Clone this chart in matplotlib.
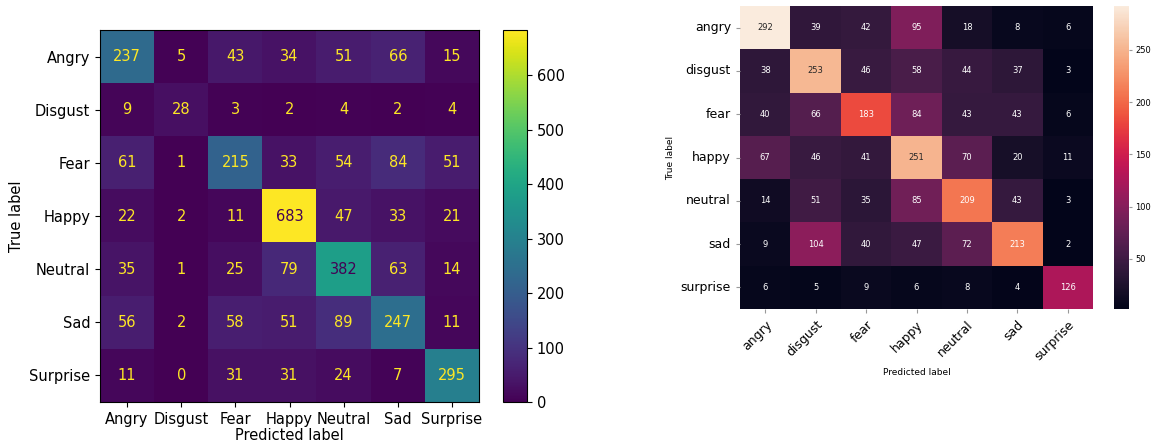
import matplotlib
matplotlib.use("Agg")
import matplotlib.pyplot as plt
import numpy as np
import seaborn as sns

# left matrix (sklearn ConfusionMatrixDisplay style)
left_labels = ["Angry", "Disgust", "Fear", "Happy", "Neutral", "Sad", "Surprise"]
left_cm = np.array([
    [237, 5, 43, 34, 51, 66, 15],
    [9, 28, 3, 2, 4, 2, 4],
    [61, 1, 215, 33, 54, 84, 51],
    [22, 2, 11, 683, 47, 33, 21],
    [35, 1, 25, 79, 382, 63, 14],
    [56, 2, 58, 51, 89, 247, 11],
    [11, 0, 31, 31, 24, 7, 295],
])

# right matrix (seaborn heatmap)
right_labels = ["angry", "disgust", "fear", "happy", "neutral", "sad", "surprise"]
right_cm = np.array([
    [292, 39, 42, 95, 18, 8, 6],
    [38, 253, 46, 58, 44, 37, 3],
    [40, 66, 183, 84, 43, 43, 6],
    [67, 46, 41, 251, 70, 20, 11],
    [14, 51, 35, 85, 209, 43, 3],
    [9, 104, 40, 47, 72, 213, 2],
    [6, 5, 9, 6, 8, 4, 126],
])

W, H = 1154, 448
fig = plt.figure(figsize=(W / 100, H / 100), dpi=100)


def box(x0, y0, x1, y1):
    return [x0 / W, 1 - y1 / H, (x1 - x0) / W, (y1 - y0) / H]


# --- left panel ---
ax1 = fig.add_axes(box(100, 30, 479, 402))
cax1 = fig.add_axes(box(503, 30, 527, 402))
cmap = plt.get_cmap("viridis")
im = ax1.imshow(left_cm, cmap=cmap, aspect="auto", vmin=left_cm.min(), vmax=left_cm.max())
thresh = (left_cm.max() + left_cm.min()) / 2.0
for i in range(left_cm.shape[0]):
    for j in range(left_cm.shape[1]):
        color = cmap(0.0) if left_cm[i, j] >= thresh else cmap(1.0)
        ax1.text(j, i, str(left_cm[i, j]), ha="center", va="center",
                 color=color, fontsize=10.5)
n = len(left_labels)
ax1.set_xticks(range(n))
ax1.set_yticks(range(n))
ax1.set_xticklabels(left_labels, fontsize=10.5)
ax1.set_yticklabels(left_labels, fontsize=10.5)
ax1.set_xlabel("Predicted label", fontsize=10.5, labelpad=1)
ax1.set_ylabel("True label", fontsize=10.5)
cb1 = fig.colorbar(im, cax=cax1)
cb1.set_ticks(range(0, 700, 100))
cb1.ax.tick_params(labelsize=10.5)

# --- right panel ---
ax2 = fig.add_axes(box(740, 6, 1093, 309))
cax2 = fig.add_axes(box(1114, 6, 1129, 309))
sns.heatmap(right_cm, annot=True, fmt="d", ax=ax2, cbar_ax=cax2,
            xticklabels=right_labels, yticklabels=right_labels,
            annot_kws={"size": 6})
ax2.tick_params(axis="both", length=3, color="#999999")
ax2.set_xticklabels(right_labels, rotation=45, ha="right", fontsize=9,
                    rotation_mode="anchor")
ax2.set_yticklabels(right_labels, rotation=0, fontsize=9)
ax2.set_xlabel("Predicted label", fontsize=6.5)
ax2.set_ylabel("True label", fontsize=6.5)
cax2.tick_params(labelsize=6, length=2.5, pad=2, color="#999999")
cax2.set_yticks([50, 100, 150, 200, 250])

fig.savefig("out.png", dpi=100)
